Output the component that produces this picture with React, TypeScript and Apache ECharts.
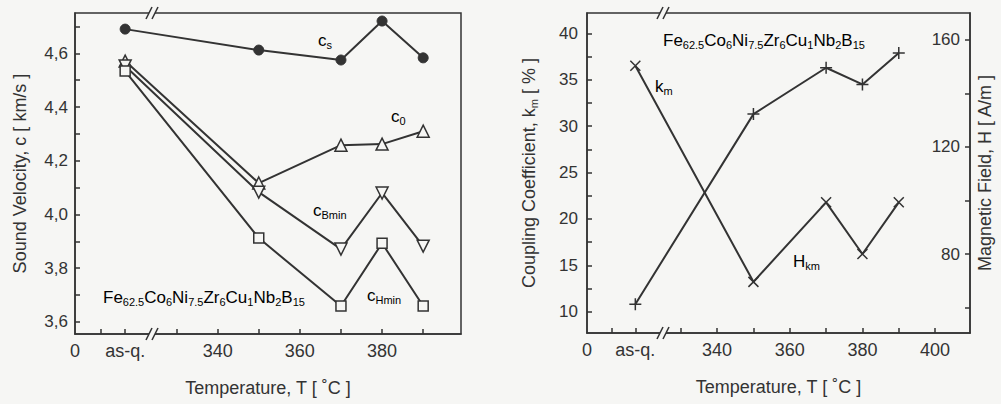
import React, { useEffect, useRef } from "react";
import * as echarts from "echarts";

const temps = ["as-q.", 350, 370, 380, 390];
const ASQ_POS = 317.5;

// Left panel: sound velocity [km/s]
const cS = [4.69, 4.612, 4.575, 4.72, 4.583];
const c0 = [4.571, 4.117, 4.258, 4.262, 4.31];
const cBmin = [4.553, 4.083, 3.871, 4.08, 3.882];
const cHmin = [4.534, 3.912, 3.659, 3.893, 3.659];

// Right panel
const kmPlus = [10.8, 31.3, 36.3, 34.5, 37.9]; // coupling coefficient [%]
const hCross = [150.3, 69.6, 99.3, 80, 99.3]; // magnetic field [A/m]

const leftYLabels = [3.6, 3.8, 4.0, 4.2, 4.4, 4.6];
const leftYTicks = [3.6, 3.7, 3.8, 3.9, 4.0, 4.1, 4.2, 4.3, 4.4, 4.5, 4.6, 4.7];
const kLabels = [10, 15, 20, 25, 30, 35, 40];
const kTicks = [10, 12.5, 15, 17.5, 20, 22.5, 25, 27.5, 30, 32.5, 35, 37.5, 40];
const hLabels = [80, 120, 160];
const hTicks = [60, 80, 100, 120, 140, 160];

const FONT = "Liberation Sans, Arial, sans-serif";
const INK = "#333333";
const BG = "#f6f6f4";

const xPos = (t: string | number) => (t === "as-q." ? ASQ_POS : (t as number));
const pairs = (vals: number[]) => temps.map((t, i) => [xPos(t), vals[i]]);

const plusPath = "path://M5,0L5,10M0,5L10,5";
const crossPath = "path://M0,0L10,10M10,0L0,10";

const subRich = {
  b: { fontSize: 17, lineHeight: 20, fontFamily: FONT, color: INK },
  s: { fontSize: 11, lineHeight: 10, verticalAlign: "bottom", fontFamily: FONT, color: INK },
};

export default function App() {
  const ref = useRef<HTMLDivElement>(null);
  useEffect(() => {
    if (!ref.current) return;
    const chart = echarts.init(ref.current, undefined, { renderer: "svg" });

    const xAxisCommon = (min: number, max: number, ticks: number[], labels: number[]) => ({
      type: "value",
      min,
      max,
      axisLine: { show: true, lineStyle: { color: INK, width: 1.5 } },
      axisTick: { show: true, inside: true, length: 5, customValues: ticks, lineStyle: { color: INK, width: 1.5 } },
      axisLabel: {
        show: true,
        customValues: labels,
        margin: 8,
        fontSize: 18,
        fontFamily: FONT,
        color: INK,
        formatter: (v: number) => (Math.abs(v - ASQ_POS) < 0.01 ? "as-q." : v < 310 ? "0" : String(v)),
      },
      splitLine: { show: false },
      name: "Temperature, T [ ˚C ]",
      nameLocation: "middle",
      nameGap: 45,
      nameTextStyle: { fontSize: 18, fontFamily: FONT, color: INK },
    });

    const lineSeries = (name: string, data: number[][], x: number, y: number, sym: string, extra: any = {}) => ({
      type: "line",
      name,
      xAxisIndex: x,
      yAxisIndex: y,
      data,
      symbol: sym,
      symbolSize: 11,
      lineStyle: { color: INK, width: 2 },
      itemStyle: { color: BG, borderColor: INK, borderWidth: 1.5 },
      z: 3,
      ...extra,
    });

    const option: any = {
      animation: false,
      backgroundColor: BG,
      textStyle: { fontFamily: FONT },
      grid: [
        { left: 75, right: 540, top: 13, bottom: 70, show: true, borderColor: INK, borderWidth: 1.5, backgroundColor: "transparent" },
        { left: 587, right: 31, top: 13, bottom: 71, show: true, borderColor: INK, borderWidth: 1.5, backgroundColor: "transparent" },
      ],
      xAxis: [
        { gridIndex: 0, ...xAxisCommon(305.3, 399.2, [311.5, ASQ_POS, 330, 340, 350, 360, 370, 380, 390], [305.3, ASQ_POS, 340, 360, 380]) },
        { gridIndex: 1, ...xAxisCommon(304.2, 409.6, [311, ASQ_POS, 330, 340, 350, 360, 370, 380, 390, 400], [304.2, ASQ_POS, 340, 360, 380, 400]) },
      ],
      yAxis: [
        {
          gridIndex: 0,
          type: "value",
          min: 3.555,
          max: 4.75,
          axisLine: { show: true, lineStyle: { color: INK, width: 1.5 } },
          axisTick: { show: true, inside: true, length: 5, customValues: leftYTicks, lineStyle: { color: INK, width: 1.5 } },
          axisLabel: {
            customValues: leftYLabels,
            margin: 7,
            fontSize: 17,
            fontFamily: FONT,
            color: INK,
            formatter: (v: number) => v.toFixed(1).replace(".", ","),
          },
          splitLine: { show: false },
          name: "Sound Velocity, c [ km/s ]",
          nameLocation: "middle",
          nameGap: 46,
          nameTextStyle: { fontSize: 18, fontFamily: FONT, color: INK },
        },
        {
          gridIndex: 1,
          type: "value",
          min: 7.7,
          max: 42.2,
          axisLine: { show: true, lineStyle: { color: INK, width: 1.5 } },
          axisTick: { show: true, inside: true, length: 5, customValues: kTicks, lineStyle: { color: INK, width: 1.5 } },
          axisLabel: { customValues: kLabels, margin: 9, fontSize: 17, fontFamily: FONT, color: INK },
          splitLine: { show: false },
          name: "{b|Coupling Coefficient, k}{s|m}{b| [ % ]}",
          nameLocation: "middle",
          nameGap: 48,
          nameTextStyle: { rich: { b: { ...subRich.b, fontSize: 18 }, s: subRich.s } },
        },
        {
          gridIndex: 1,
          type: "value",
          position: "right",
          min: 50.5,
          max: 170,
          axisLine: { show: true, onZero: false, lineStyle: { color: INK, width: 1.5 } },
          axisTick: { show: true, inside: true, length: 5, customValues: hTicks, lineStyle: { color: INK, width: 1.5 } },
          axisLabel: { customValues: hLabels, inside: true, margin: 10, fontSize: 17, fontFamily: FONT, color: INK },
          splitLine: { show: false },
          name: "Magnetic Field, H [ A/m ]",
          nameLocation: "middle",
          nameGap: 6,
          nameTextStyle: { fontSize: 18, fontFamily: FONT, color: INK, verticalAlign: "top" },
        },
      ],
      series: [
        lineSeries("cs", pairs(cS), 0, 0, "circle", { itemStyle: { color: INK, borderColor: INK, borderWidth: 1 }, symbolSize: 10 }),
        lineSeries("c0", pairs(c0), 0, 0, "triangle", { symbolSize: 12 }),
        lineSeries("cBmin", pairs(cBmin), 0, 0, "triangle", { symbolSize: 12, symbolRotate: 180 }),
        lineSeries("cHmin", pairs(cHmin), 0, 0, "rect", { symbolSize: 10 }),
        lineSeries("km", pairs(kmPlus), 1, 1, plusPath, { symbolSize: 12, itemStyle: { color: "none", borderColor: INK, borderWidth: 1.5 } }),
        lineSeries("Hkm", pairs(hCross), 1, 2, crossPath, { symbolSize: 10, itemStyle: { color: "none", borderColor: INK, borderWidth: 1.5 } }),
      ],
      graphic: [
        // axis breaks
        ...[
          [152, 13],
          [152, 334],
          [663, 13],
          [663, 333],
        ].flatMap(([x, y]) => [
          { type: "rect", shape: { x: x - 3, y: y - 2, width: 6, height: 4 }, style: { fill: BG }, z: 50 },
          { type: "line", shape: { x1: x - 6, y1: y + 6, x2: x, y2: y - 6 }, style: { stroke: INK, lineWidth: 1.5 }, z: 51 },
          { type: "line", shape: { x1: x, y1: y + 6, x2: x + 6, y2: y - 6 }, style: { stroke: INK, lineWidth: 1.5 }, z: 51 },
        ]),
        // series annotations
        { type: "text", left: 318, top: 32, style: { text: "{b|c}{s|s}", rich: subRich }, z: 60 },
        { type: "text", left: 391, top: 108, style: { text: "{b|c}{s|0}", rich: subRich }, z: 60 },
        { type: "text", left: 313, top: 202, style: { text: "{b|c}{s|Bmin}", rich: subRich }, z: 60 },
        { type: "text", left: 367, top: 287, style: { text: "{b|c}{s|Hmin}", rich: subRich }, z: 60 },
        {
          type: "text",
          left: 103,
          top: 289,
          style: { text: "{b|Fe}{s|62.5}{b|Co}{s|6}{b|Ni}{s|7.5}{b|Zr}{s|6}{b|Cu}{s|1}{b|Nb}{s|2}{b|B}{s|15}", rich: subRich },
          z: 60,
        },
        {
          type: "text",
          left: 663,
          top: 32,
          style: { text: "{b|Fe}{s|62.5}{b|Co}{s|6}{b|Ni}{s|7.5}{b|Zr}{s|6}{b|Cu}{s|1}{b|Nb}{s|2}{b|B}{s|15}", rich: subRich },
          z: 60,
        },
        { type: "text", left: 655, top: 78, style: { text: "{b|k}{s|m}", rich: subRich }, z: 60 },
        { type: "text", left: 793, top: 253, style: { text: "{b|H}{s|km}", rich: subRich }, z: 60 },
      ],
    };

    chart.setOption(option);
    return () => chart.dispose();
  }, []);

  return (
    <div
      ref={ref}
      style={{ position: "fixed", left: 0, top: 0, width: 1001, height: 404 }}
    />
  );
}
